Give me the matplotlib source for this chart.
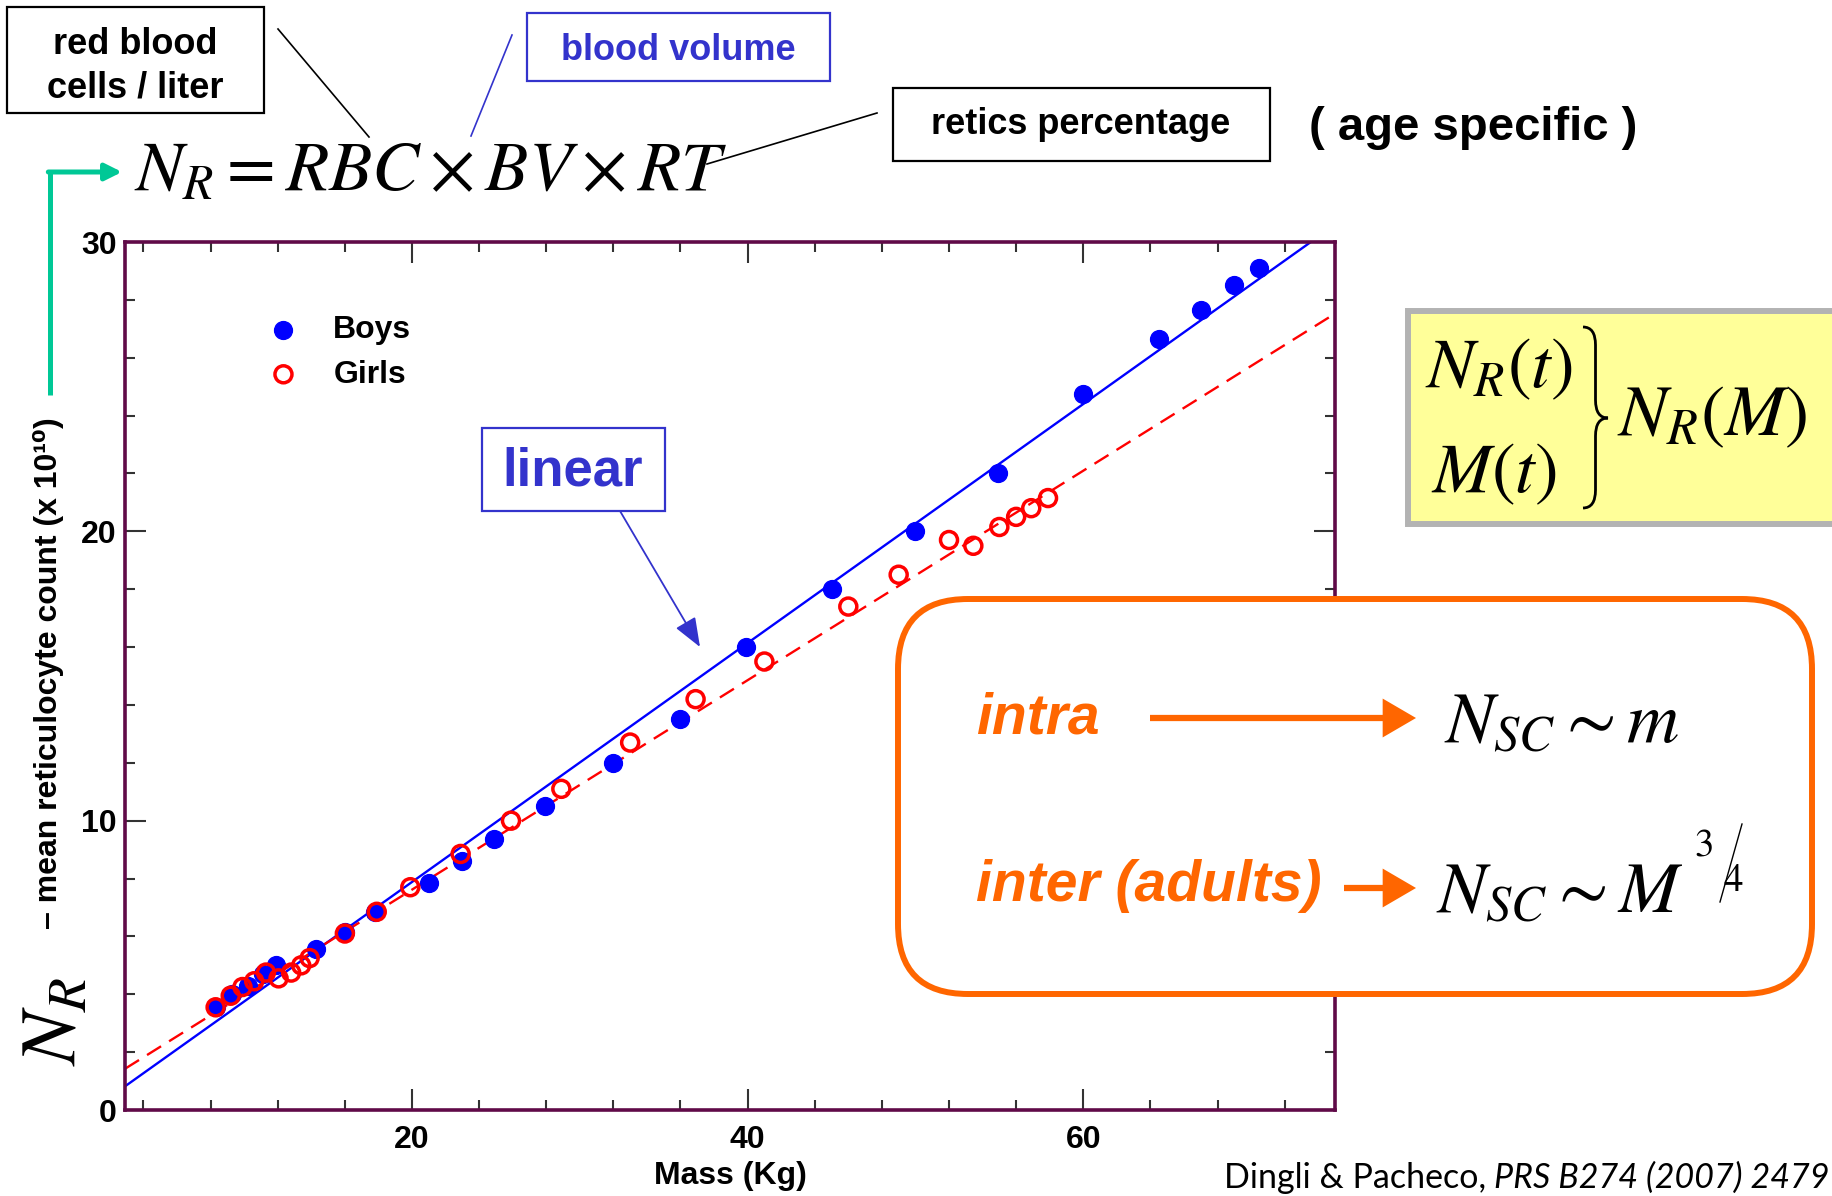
import numpy as np
import matplotlib.pyplot as plt
from matplotlib.patches import FancyBboxPatch, Rectangle, FancyArrowPatch, PathPatch
from matplotlib.lines import Line2D
from matplotlib.path import Path
from matplotlib.text import Annotation

plt.rcParams['mathtext.fontset'] = 'stix'
plt.rcParams['font.family'] = ['Liberation Sans', 'DejaVu Sans']

# values: mass (kg) vs mean reticulocyte count (x 1e10)
boys_mass = [8.3, 9.3, 10.2, 11.1, 11.9, 14.3, 16.0, 17.8, 21.0, 23.0, 24.9,
             27.9, 32.0, 36.0, 39.9, 45.0, 50.0, 54.9, 60.0, 64.5, 67.0, 69.0, 70.5]
boys_count = [3.55, 4.0, 4.3, 4.7, 5.0, 5.55, 6.15, 6.85, 7.85, 8.6, 9.35,
              10.5, 12.0, 13.5, 16.0, 18.0, 20.0, 22.0, 24.75, 26.65, 27.65, 28.5, 29.1]
girls_mass = [8.3, 9.2, 9.9, 10.6, 11.3, 12.05, 12.8, 13.4, 13.9, 16.0, 17.9,
              19.9, 22.9, 25.9, 28.9, 33.0, 36.9, 41.0, 46.0, 49.0, 52.0, 53.45,
              55.0, 56.0, 56.9, 57.9]
girls_count = [3.55, 3.95, 4.25, 4.45, 4.75, 4.55, 4.75, 5.0, 5.25, 6.1, 6.85,
               7.7, 8.85, 10.0, 11.1, 12.7, 14.2, 15.5, 17.4, 18.5, 19.7, 19.5,
               20.15, 20.5, 20.8, 21.15]
# linear fits (slope, intercept)
boys_fit = (0.413, -0.38)
girls_fit = (0.362, 0.375)

xticks = [20, 40, 60]
yticks = [0, 10, 20, 30]

W, H = 1833, 1196
fig = plt.figure(figsize=(W / 100, H / 100), dpi=100)
T = fig.dpi_scale_trans


def P(x, y):
    # picture pixels (origin top-left) -> inches
    return x / 100, (H - y) / 100


ax = fig.add_axes([125 / W, 1 - 1110 / H, 1210 / W, 868 / H])
ax.set_xlim(2.9, 75)
ax.set_ylim(0, 30)

ax.axline((0, boys_fit[1]), slope=boys_fit[0], color='#0000ff', lw=1.7, zorder=2)
ax.axline((0, girls_fit[1]), slope=girls_fit[0], color='#ff0000', lw=1.7,
          ls=(0, (7, 4)), zorder=2)
hb = ax.scatter(boys_mass, boys_count, s=165, color='#0000ff', zorder=3, label='Boys')
hg = ax.scatter(girls_mass, girls_count, s=150, facecolors='none', edgecolors='#ff0000',
                linewidths=2.5, zorder=4, label='Girls')

ax.set_xticks(xticks)
ax.set_yticks(yticks)
ax.set_xticks(np.arange(4, 75, 4), minor=True)
ax.set_yticks(np.arange(0, 31, 2), minor=True)
ax.tick_params(which='both', direction='in', top=True, right=True,
               width=1.5, color='#333333', labelsize=23)
ax.tick_params(which='major', length=15)
ax.tick_params(which='minor', length=7)
ax.tick_params(axis='x', pad=11)
ax.tick_params(axis='y', pad=6)
for lbl in ax.get_xticklabels() + ax.get_yticklabels():
    lbl.set_fontweight('bold')
for sp in ax.spines.values():
    sp.set_color('#600a48')
    sp.set_linewidth(2.6)

ax.set_xlabel('Mass (Kg)', fontsize=23, fontweight='bold', labelpad=4)

leg = ax.legend(handles=[hb, hg], loc='center left', bbox_to_anchor=(0.094, 0.8727),
                frameon=False, handlelength=1, handletextpad=1.06, labelspacing=0.45,
                prop={'size': 23, 'weight': 'bold'}, borderpad=0.4)

# y label
fig.text(*P(49, 673), '\u2013 mean reticulocyte count (x 10\u00b9\u2070)', transform=T,
         rotation=90, ha='center', va='center', fontsize=23, fontweight='bold')
fig.text(*P(56, 1022), r'$N_R$', transform=T, rotation=90, ha='center', va='center',
         fontsize=57)

# equation with labels
fig.text(*P(134, 190), r'$N_R = RBC \times BV \times RT$', transform=T,
         ha='left', va='baseline', fontsize=51)

fig.add_artist(Rectangle(P(7, 113), 2.57, 1.06, transform=T, fc='white', ec='black', lw=1.6))
fig.text(*P(135, 66), 'red blood\ncells / liter', transform=T, ha='center', va='center',
         fontsize=26, fontweight='bold', linespacing=1.3)
fig.add_artist(Rectangle(P(527, 81), 3.03, 0.68, transform=T, fc='white', ec='#3333cc', lw=1.6))
fig.text(*P(678, 50), 'blood volume', transform=T, ha='center', va='center',
         fontsize=26, fontweight='bold', color='#3333cc')
fig.add_artist(Rectangle(P(893, 161), 3.77, 0.73, transform=T, fc='white', ec='black', lw=1.6))
fig.text(*P(1081, 125), 'retics percentage', transform=T, ha='center', va='center',
         fontsize=26, fontweight='bold')
fig.text(*P(1473, 128), '( age specific )', transform=T, ha='center', va='center',
         fontsize=34, fontweight='bold')

fig.add_artist(Line2D([2.78, 3.69], [(H - 29) / 100, (H - 137) / 100], transform=T,
                      color='black', lw=1.2))
fig.add_artist(Line2D([5.12, 4.71], [(H - 35) / 100, (H - 136) / 100], transform=T,
                      color='#3333cc', lw=1.2))
fig.add_artist(Line2D([8.77, 7.07], [(H - 113) / 100, (H - 164) / 100], transform=T,
                      color='black', lw=1.2))

# teal arrow to N_R
teal = '#00c896'
fig.add_artist(Line2D([0.50, 0.50], [(H - 395) / 100, (H - 172) / 100], transform=T,
                      color=teal, lw=3.6, solid_capstyle='butt'))
fig.add_artist(FancyArrowPatch(P(48.3, 172), P(122, 172), transform=T,
                               arrowstyle='-|>,head_length=10,head_width=5',
                               mutation_scale=1, color=teal, lw=3.6, shrinkA=0, shrinkB=0))

# "linear" callout
fig.add_artist(Rectangle(P(482, 511), 1.83, 0.83, transform=T, fc='white', ec='#3333cc', lw=1.6))
fig.text(*P(573, 472), 'linear', transform=T, ha='center', va='center',
         fontsize=38, fontweight='bold', color='#3333cc')
fig.add_artist(FancyArrowPatch(P(620, 511), P(700, 647), transform=T,
                               arrowstyle='-|>,head_length=18,head_width=7',
                               mutation_scale=1, color='#3333cc', lw=1.3,
                               shrinkA=0, shrinkB=0))

# yellow box
fig.add_artist(Rectangle(P(1408, 524), 5.0, 2.13, transform=T, fc='#ffff99',
                         ec='#b3b3b3', lw=4.3))
fig.text(*P(1425, 387), r'$N_R(t)$', transform=T, ha='left', va='baseline', fontsize=51)
fig.text(*P(1431, 492), r'$M(t)$', transform=T, ha='left', va='baseline', fontsize=51)
fig.text(*P(1617, 435), r'$N_R(M)$', transform=T, ha='left', va='baseline', fontsize=52)
x0, x1, yt, ym, yb = 1583, 1608, 327, 418, 508
xm, q = (x0 + x1) / 2, 18
brace = [(x0, yt), (xm, yt), (xm, yt + q), (xm, ym - q), (xm, ym), (x1, ym),
         (xm, ym), (xm, ym + q), (xm, yb - q), (xm, yb), (x0, yb)]
codes = [Path.MOVETO, Path.CURVE3, Path.CURVE3, Path.LINETO, Path.CURVE3, Path.CURVE3,
         Path.CURVE3, Path.CURVE3, Path.LINETO, Path.CURVE3, Path.CURVE3]
fig.add_artist(PathPatch(Path([P(*v) for v in brace], codes), transform=T,
                         fc='none', ec='black', lw=2.0))

# orange box
orange = '#ff6600'
fig.add_artist(FancyBboxPatch(P(898, 994), 9.14, 3.95, transform=T,
                              boxstyle='round,pad=0,rounding_size=0.7',
                              fc='white', ec=orange, lw=4.3))
fig.text(*P(976, 718), 'intra', transform=T, ha='left', va='center', fontsize=41,
         fontweight='bold', fontstyle='italic', color=orange)
fig.text(*P(976, 886), 'inter (adults)', transform=T, ha='left', va='center', fontsize=41,
         fontweight='bold', fontstyle='italic', color=orange)
fig.add_artist(FancyArrowPatch(P(1150, 718), P(1416, 718), transform=T,
                               arrowstyle='simple,head_length=24,head_width=28,tail_width=4.5',
                               mutation_scale=1, fc=orange, ec='none', shrinkA=0, shrinkB=0))
fig.add_artist(FancyArrowPatch(P(1344, 888), P(1416, 888), transform=T,
                               arrowstyle='simple,head_length=24,head_width=28,tail_width=4.5',
                               mutation_scale=1, fc=orange, ec='none', shrinkA=0, shrinkB=0))
fig.text(*P(1444, 742), r'$N_{SC} \sim m$', transform=T, ha='left', va='baseline', fontsize=52)
fig.text(*P(1436, 912), r'$N_{SC} \sim M$', transform=T, ha='left', va='baseline', fontsize=52)
fig.text(*P(1703, 846), r'$3$', transform=T, ha='center', va='center', fontsize=28)
fig.text(*P(1733, 881), r'$4$', transform=T, ha='center', va='center', fontsize=28)
fig.add_artist(Line2D([17.42, 17.20], [(H - 824) / 100, (H - 902) / 100], transform=T,
                      color='black', lw=1.0))

# citation
cit = fig.text(*P(1830, 1188), 'PRS B274 (2007) 2479', transform=T, ha='right',
               va='baseline', fontsize=24.5, fontstyle='italic', fontweight='normal',
               family=['Lato', 'DejaVu Sans'])
fig.add_artist(Annotation('Dingli & Pacheco, ', xy=(0, 0), xycoords=cit, ha='right',
                          va='bottom', fontsize=24.5, fontweight='normal',
                          family=['Lato', 'DejaVu Sans']))

fig.savefig('out.png', dpi=100)
